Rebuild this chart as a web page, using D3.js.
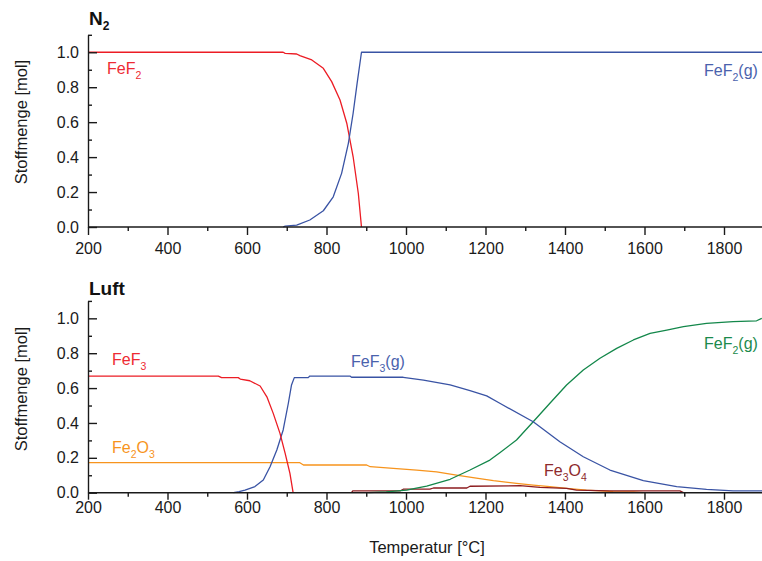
<!DOCTYPE html>
<html>
<head>
<meta charset="utf-8">
<script src="https://cdn.jsdelivr.net/npm/d3@7"></script>
<style>
  body { margin: 0; background: #fff; }
  svg { display: block; font-family: "Liberation Sans", Arial, sans-serif; }
  .axis path, .axis line { stroke: #1a1a1a; stroke-width: 1.4px; }
  .axis text { font-size: 16px; fill: #1a1a1a; }
  .line { fill: none; stroke-width: 1.3px; stroke-linejoin: round; }
  .title { font-weight: bold; font-size: 19px; fill: #111; }
  .ylabel, .xlabel { font-size: 16.5px; fill: #1a1a1a; }
  .lbl { font-size: 16px; }
</style>
</head>
<body>
<script>
// data: [temperature °C, amount mol]
// panel N2
const n2FeF2 = [[200,1.0],[691,1.0],[696,0.994],[725,0.99],[733,0.981],[763,0.956],[792,0.908],
  [813,0.832],[834,0.727],[851,0.594],[867,0.402],[880,0.193],[888,0]]
const n2FeF2g = [[691,0],[696,0.005],[725,0.011],[758,0.04],[792,0.093],[817,0.173],[838,0.307],
  [855,0.479],[867,0.651],[877,0.822],[888,1.0],[1900,1.0]]

// panel Luft
const luftFeF3 = [[200,0.669],[528,0.669],[536,0.66],[578,0.66],[583,0.652],[607,0.642],[633,0.612],
  [650,0.55],[666,0.455],[683,0.34],[696,0.226],[708,0.111],[716,0]]
const luftFeF3g = [[566,0],[580,0.006],[595,0.015],[620,0.035],[641,0.073],[658,0.149],[675,0.245],
  [691,0.36],[704,0.513],[712,0.618],[719,0.66],[754,0.66],[758,0.669],[859,0.669],[863,0.662],
  [993,0.662],[1044,0.646],[1111,0.618],[1161,0.585],[1203,0.555],[1236,0.513],[1320,0.407],
  [1387,0.292],[1446,0.206],[1513,0.13],[1597,0.069],[1681,0.035],[1756,0.019],[1823,0.01],[1900,0.01]]
const luftFeF2g = [[905,0],[950,0.005],[1002,0.015],[1023,0.025],[1052,0.038],[1111,0.077],[1161,0.13],
  [1211,0.187],[1236,0.229],[1278,0.302],[1320,0.407],[1362,0.513],[1404,0.618],[1446,0.704],
  [1488,0.771],[1530,0.828],[1572,0.876],[1614,0.914],[1656,0.933],[1698,0.952],[1756,0.971],
  [1823,0.981],[1882,0.986],[1895,1.0]]
const luftFe2O3 = [[200,0.172],[733,0.172],[742,0.159],[901,0.159],[910,0.149],[968,0.14],[1027,0.13],
  [1077,0.12],[1127,0.101],[1177,0.083],[1220,0.069],[1278,0.054],[1320,0.044],[1362,0.035],
  [1404,0.025],[1454,0.015],[1521,0.006],[1572,0.005],[1597,0]]
const luftFe3O4 = [[863,0],[866,0.01],[985,0.01],[993,0.02],[1060,0.02],[1069,0.027],[1153,0.027],
  [1161,0.037],[1287,0.04],[1337,0.031],[1404,0.025],[1429,0.015],[1513,0.01],[1689,0.01],[1698,0]]

const xMajor = d3.range(200, 1801, 200)
const xMinor = d3.range(300, 1900, 200)
const yMajor = [0, 0.2, 0.4, 0.6, 0.8, 1.0]
const yMinor = [0.1, 0.3, 0.5, 0.7, 0.9, 1.1]

//consts
const
  width = 762,
  height = 561,
  left = 88,
  pxPerDeg = 0.3975

const colors = {
  red: '#ec1c24', blue: '#3953a4', green: '#13874a', orange: '#f7941d', brown: '#8c1c1f'
}

const svg = d3.select('body').append('svg')
  .attr('width', width).attr('height', height)

const x = d3.scaleLinear().domain([200, 1900]).range([left, left + 1700 * pxPerDeg])

const panels = [
  {
    top: 34.8, bottom: 227, tickLen: 8, labelPad: 8, title: ['N', '2'], titleY: 25, yTitleY: 122,
    series: [
      {data: n2FeF2, color: colors.red},
      {data: n2FeF2g, color: colors.blue}
    ],
    labels: [
      {parts: [['FeF'], ['2', 1]], x: 107, y: 74, color: '#ee2a33'},
      {parts: [['FeF'], ['2', 1], ['(g)']], x: 704, y: 76, color: '#4a62ad'}
    ]
  },
  {
    top: 300.9, bottom: 492.7, tickLen: 7, labelPad: 2, title: ['Luft'], titleY: 295, yTitleY: 389,
    series: [
      {data: luftFe2O3, color: colors.orange},
      {data: luftFe3O4, color: colors.brown},
      {data: luftFeF2g, color: colors.green},
      {data: luftFeF3g, color: colors.blue},
      {data: luftFeF3, color: colors.red}
    ],
    labels: [
      {parts: [['FeF'], ['3', 1]], x: 112, y: 365, color: '#ee2a33'},
      {parts: [['Fe'], ['2', 1], ['O'], ['3', 1]], x: 112, y: 453, color: '#f7941d'},
      {parts: [['FeF'], ['3', 1], ['(g)']], x: 351, y: 367, color: '#4a62ad'},
      {parts: [['FeF'], ['2', 1], ['(g)']], x: 704, y: 349, color: '#1b8a4c'},
      {parts: [['Fe'], ['3', 1], ['O'], ['4', 1]], x: 544, y: 476, color: '#8e2a2c'}
    ]
  }
]

//writes text with subscript parts
function richText(sel, parts, baseSize, subSize) {
  let shifted = false
  parts.forEach(([str, sub]) => {
    let dy = 0
    if (sub && !shifted) { dy = 5; shifted = true }
    else if (!sub && shifted) { dy = -5; shifted = false }
    sel.append('tspan')
      .attr('dy', dy)
      .style('font-size', (sub ? subSize : baseSize) + 'px')
      .text(str)
  })
}

panels.forEach(p => {
  const y = d3.scaleLinear().domain([0, 1.1]).range([p.bottom, p.top])
  const g = svg.append('g')

  //lines
  const line = d3.line().x(d => x(d[0])).y(d => y(d[1]))
  g.selectAll('.line')
    .data(p.series)
    .enter()
    .append('path')
    .attr('class', 'line')
    .attr('d', d => line(d.data))
    .attr('stroke', d => d.color)

  //x axis major + minor
  g.append('g')
    .attr('class', 'axis')
    .attr('transform', 'translate(0,' + p.bottom + ')')
    .call(d3.axisBottom(x).tickValues(xMajor).tickSize(p.tickLen).tickSizeOuter(0)
      .tickPadding(p.labelPad).tickFormat(d3.format('d')))
    .call(s => s.select('.domain').attr('d', 'M' + left + ',0H' + width))
  g.append('g')
    .attr('class', 'axis')
    .attr('transform', 'translate(0,' + p.bottom + ')')
    .call(d3.axisBottom(x).tickValues(xMinor).tickSize(4).tickFormat(''))
    .call(s => s.select('.domain').remove())

  //y axis major + minor (inward ticks)
  g.append('g')
    .attr('class', 'axis')
    .attr('transform', 'translate(' + left + ',0)')
    .call(d3.axisLeft(y).tickValues(yMajor).tickSize(-9).tickSizeOuter(0).tickPadding(9)
      .tickFormat(d3.format('.1f')))
  g.append('g')
    .attr('class', 'axis')
    .attr('transform', 'translate(' + left + ',0)')
    .call(d3.axisLeft(y).tickValues(yMinor).tickSize(-4).tickFormat(''))
    .call(s => s.select('.domain').remove())

  //panel title
  const t = g.append('text').attr('class', 'title').attr('x', 89).attr('y', p.titleY)
  if (p.title.length > 1) richText(t, [[p.title[0]], [p.title[1], 1]], 19, 12)
  else t.text(p.title[0])

  //y title
  g.append('text')
    .attr('class', 'ylabel')
    .attr('transform', 'translate(27,' + p.yTitleY + ') rotate(-90)')
    .attr('text-anchor', 'middle')
    .text('Stoffmenge [mol]')

  //series labels
  p.labels.forEach(l => {
    const lt = g.append('text').attr('class', 'lbl')
      .attr('x', l.x).attr('y', l.y).attr('fill', l.color)
    richText(lt, l.parts, 16, 10.5)
  })
})

svg.append('text')
  .attr('class', 'xlabel')
  .attr('x', 427).attr('y', 553)
  .attr('text-anchor', 'middle')
  .text('Temperatur [°C]')
</script>
</body>
</html>
